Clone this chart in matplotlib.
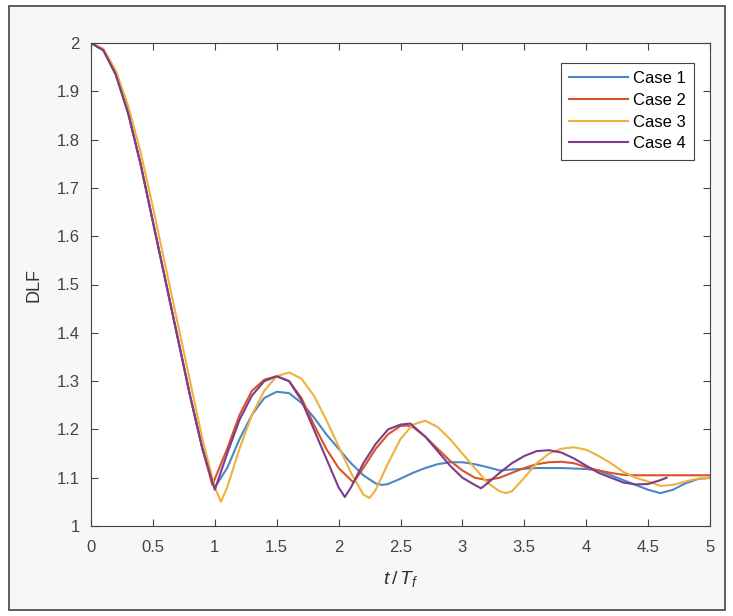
import matplotlib.pyplot as plt
from matplotlib.patches import Rectangle

plt.rcParams["font.family"] = ["Liberation Sans", "DejaVu Sans"]
plt.rcParams["mathtext.fontset"] = "custom"
plt.rcParams["mathtext.it"] = "Liberation Sans:italic"
plt.rcParams["mathtext.rm"] = "Liberation Sans"

# t/Tf and DLF per case
t1 = [0, 0.1, 0.2, 0.3, 0.4, 0.5, 0.6, 0.7, 0.8, 0.9, 1.0, 1.1, 1.2, 1.3, 1.4, 1.5, 1.6, 1.7,
      1.8, 1.9, 2.0, 2.1, 2.2, 2.3, 2.35, 2.4, 2.5, 2.6, 2.7, 2.8, 2.9, 3.0, 3.1, 3.2, 3.3,
      3.4, 3.6, 3.8, 4.0, 4.1, 4.2, 4.3, 4.4, 4.5, 4.6, 4.7, 4.8, 4.9, 5.0]
dlf1 = [2.0, 1.985, 1.935, 1.855, 1.75, 1.63, 1.51, 1.39, 1.27, 1.16, 1.08, 1.12, 1.18, 1.23,
        1.265, 1.278, 1.275, 1.255, 1.225, 1.19, 1.16, 1.13, 1.105, 1.088, 1.085, 1.087, 1.098,
        1.11, 1.12, 1.128, 1.132, 1.132, 1.128, 1.122, 1.115, 1.117, 1.12, 1.12, 1.118, 1.115,
        1.105, 1.095, 1.085, 1.075, 1.068, 1.075, 1.088, 1.097, 1.10]

t2 = [0, 0.1, 0.2, 0.3, 0.4, 0.5, 0.6, 0.7, 0.8, 0.9, 0.98, 1.1, 1.2, 1.3, 1.4, 1.5, 1.6, 1.7,
      1.8, 1.9, 2.0, 2.12, 2.2, 2.3, 2.4, 2.5, 2.55, 2.6, 2.7, 2.8, 2.9, 3.0, 3.1, 3.2, 3.3,
      3.4, 3.5, 3.6, 3.7, 3.8, 3.9, 4.0, 4.1, 4.2, 4.3, 4.4, 4.6, 4.8, 5.0]
dlf2 = [2.0, 1.985, 1.935, 1.855, 1.75, 1.63, 1.51, 1.39, 1.27, 1.16, 1.085, 1.16, 1.23, 1.28,
        1.303, 1.31, 1.30, 1.265, 1.21, 1.16, 1.12, 1.09, 1.12, 1.16, 1.19, 1.207, 1.208, 1.205,
        1.185, 1.16, 1.135, 1.115, 1.10, 1.095, 1.10, 1.11, 1.12, 1.128, 1.132, 1.133, 1.13,
        1.122, 1.115, 1.11, 1.106, 1.105, 1.105, 1.105, 1.105]

t3 = [0, 0.1, 0.2, 0.3, 0.4, 0.5, 0.6, 0.7, 0.8, 0.9, 1.0, 1.05, 1.1, 1.2, 1.3, 1.4, 1.5, 1.6,
      1.7, 1.8, 1.9, 2.0, 2.1, 2.2, 2.25, 2.3, 2.4, 2.5, 2.6, 2.7, 2.8, 2.9, 3.0, 3.1, 3.2,
      3.3, 3.35, 3.4, 3.5, 3.6, 3.7, 3.8, 3.9, 4.0, 4.1, 4.2, 4.3, 4.4, 4.5, 4.6, 4.7, 4.8,
      4.9, 5.0]
dlf3 = [2.0, 1.988, 1.943, 1.87, 1.775, 1.66, 1.54, 1.42, 1.30, 1.18, 1.08, 1.05, 1.08, 1.16,
        1.23, 1.28, 1.31, 1.318, 1.305, 1.27, 1.22, 1.165, 1.11, 1.065, 1.058, 1.075, 1.13, 1.18,
        1.21, 1.218, 1.205, 1.18, 1.15, 1.12, 1.09, 1.072, 1.068, 1.072, 1.10, 1.13, 1.15,
        1.16, 1.163, 1.158, 1.145, 1.13, 1.112, 1.10, 1.092, 1.083, 1.085, 1.092, 1.098, 1.10]

t4 = [0, 0.1, 0.2, 0.3, 0.4, 0.5, 0.6, 0.7, 0.8, 0.9, 1.0, 1.1, 1.2, 1.3, 1.4, 1.5, 1.6, 1.7,
      1.8, 1.9, 2.0, 2.05, 2.1, 2.2, 2.3, 2.4, 2.5, 2.58, 2.7, 2.8, 2.9, 3.0, 3.1, 3.15, 3.2,
      3.3, 3.4, 3.5, 3.6, 3.7, 3.8, 3.9, 4.0, 4.1, 4.2, 4.3, 4.4, 4.5, 4.6, 4.65]
dlf4 = [2.0, 1.985, 1.935, 1.855, 1.75, 1.63, 1.51, 1.39, 1.27, 1.16, 1.075, 1.15, 1.22, 1.27,
        1.30, 1.31, 1.30, 1.26, 1.20, 1.14, 1.08, 1.06, 1.08, 1.13, 1.17, 1.20, 1.21, 1.212,
        1.185, 1.155, 1.125, 1.10, 1.085, 1.078, 1.088, 1.11, 1.13, 1.145, 1.155, 1.157, 1.152,
        1.14, 1.125, 1.11, 1.10, 1.09, 1.086, 1.087, 1.095, 1.10]

labels = ["Case 1", "Case 2", "Case 3", "Case 4"]
colors = ["#4a86c8", "#d8532a", "#eeb23c", "#7b3d8c"]

fig = plt.figure(figsize=(7.33, 6.16), dpi=100)
fig.patch.set_facecolor("white")
# grey frame round the whole figure
fig.patches.append(Rectangle((9 / 733, 1 - 610 / 616), 716 / 733, 604 / 616,
                             transform=fig.transFigure, facecolor="#f7f7f7",
                             edgecolor="#444444", lw=1.2, zorder=-1))

ax = fig.add_axes([91 / 733, 1 - 526 / 616, 619 / 733, 483 / 616])
ax.set_facecolor("white")

for t, d, lab, c in zip([t1, t2, t3, t4], [dlf1, dlf2, dlf3, dlf4], labels, colors):
    ax.plot(t, d, color=c, lw=1.5, label=lab)

ax.set_xlim(0, 5)
ax.set_ylim(1, 2)
ax.set_xticks([0, 0.5, 1, 1.5, 2, 2.5, 3, 3.5, 4, 4.5, 5])
ax.set_xticklabels(["0", "0.5", "1", "1.5", "2", "2.5", "3", "3.5", "4", "4.5", "5"])
ax.set_yticks([1 + 0.1 * i for i in range(11)])
ax.set_yticklabels(["1", "1.1", "1.2", "1.3", "1.4", "1.5", "1.6", "1.7", "1.8", "1.9", "2"])
ax.tick_params(direction="in", top=True, right=True, length=5, width=0.8,
               colors="#444444", labelsize=12)
ax.tick_params(axis="x", pad=10)
ax.tick_params(axis="y", pad=8)
for s in ax.spines.values():
    s.set_color("#444444")
    s.set_linewidth(0.8)

ax.set_xlabel(r"$t\,/\,T_f$", fontsize=14, color="#333333", labelpad=10)
ax.set_ylabel("DLF", fontsize=13, color="#333333", labelpad=10)

leg = ax.legend(loc="upper right", bbox_to_anchor=(0.974, 0.9586), borderaxespad=0,
                fontsize=12, fancybox=False, framealpha=1, edgecolor="#444444",
                handlelength=3.5, handletextpad=0.3, borderpad=0.5, labelspacing=0.4)
leg.get_frame().set_linewidth(0.8)

fig.savefig("out.png", dpi=100)
